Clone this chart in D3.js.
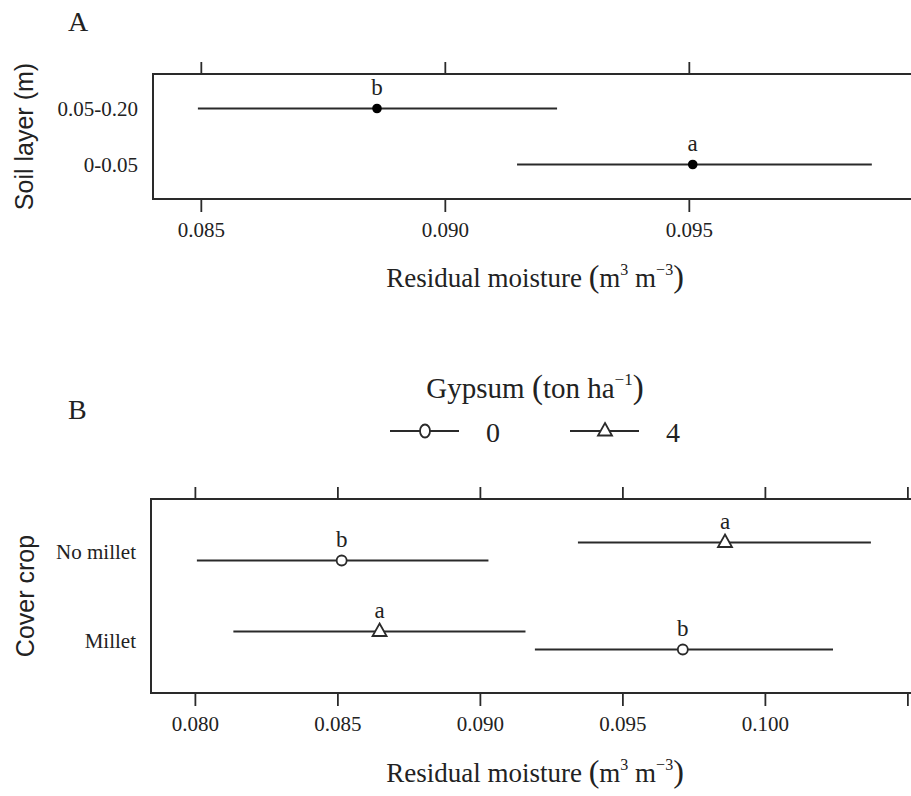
<!DOCTYPE html>
<html>
<head>
<meta charset="utf-8">
<script src="https://cdn.jsdelivr.net/npm/d3@7"></script>
<style>
	html, body { margin: 0; padding: 0; background: #fff; }
	svg { display: block; }
</style>
</head>
<body>
<svg id="chart" width="911" height="796"></svg>
<script>
// Panel A: soil layers
var layersA = ["0.05-0.20", "0-0.05"];
var meanA = [0.08861, 0.09508];
var lowerA = [0.08494, 0.09148];
var upperA = [0.09230, 0.09875];
var lettersA = ["b", "a"];
var ticksA = [0.085, 0.090, 0.095, 0.100];
var tickLabelsA = ["0.085", "0.090", "0.095"];
var xDomainA = [0.08402, 0.1000];

// Panel B: cover crop x gypsum
var cropsB = ["No millet", "Millet"];
var gypsumLevels = ["0", "4"];
var mean0 = [0.08515, 0.09712];
var lower0 = [0.08007, 0.09193];
var upper0 = [0.09030, 0.10239];
var letters0 = ["b", "b"];
var mean4 = [0.09860, 0.08648];
var lower4 = [0.09344, 0.08135];
var upper4 = [0.10372, 0.09160];
var letters4 = ["a", "a"];
var ticksB = [0.080, 0.085, 0.090, 0.095, 0.100, 0.105];
var tickLabelsB = ["0.080", "0.085", "0.090", "0.095", "0.100"];
var xDomainB = [0.07846, 0.1065];

var svg = d3.select("#chart");
var SERIF = "Liberation Serif";
var SANS = "Liberation Sans";
var INK = "#222";

var trianglePath = "M0,-8L7,4.5L-7,4.5Z";

function drawFrame(panel){
	var g = svg.append("g");
	var x = panel.x, y = panel.y;
	var r = x.range(), b = y.range();

	g.append("rect").attr("x", r[0]).attr("y", b[0])
		.attr("width", r[1] - r[0]).attr("height", b[1] - b[0])
		.attr("fill", "none").attr("stroke", "#2a2a2a").attr("stroke-width", 2);

	var bottom = g.append("g").attr("transform", "translate(0," + b[1] + ")")
		.call(d3.axisBottom(x).tickValues(panel.ticks).tickSize(13).tickPadding(10)
			.tickFormat(function(d, i){ return panel.tickLabels[i] || ""; }));
	var top = g.append("g").attr("transform", "translate(0," + b[0] + ")")
		.call(d3.axisTop(x).tickValues(panel.ticks).tickSize(12).tickFormat(""));
	var left = g.append("g").attr("transform", "translate(" + r[0] + ",0)")
		.call(d3.axisLeft(y).tickSize(0).tickPadding(15));

	[bottom, top, left].forEach(function(a){
		a.select(".domain").remove();
		a.selectAll("line").attr("stroke", "#2a2a2a").attr("stroke-width", 1.8);
		a.selectAll("text").attr("fill", INK).attr("font-family", SERIF).attr("font-size", 21);
	});

	// x title with superscripts
	var t = g.append("text").attr("x", panel.titleX).attr("y", panel.titleY)
		.attr("text-anchor", "middle").attr("fill", INK)
		.attr("font-family", SERIF).attr("font-size", 27);
	t.append("tspan").text("Residual moisture ");
	t.append("tspan").attr("font-size", 32).text("(");
	t.append("tspan").text("m");
	t.append("tspan").attr("dy", -12).attr("font-size", 16).text("3");
	t.append("tspan").attr("dy", 12).text(" m");
	t.append("tspan").attr("dy", -12).attr("font-size", 16).text("\u22123");
	t.append("tspan").attr("dy", 12).attr("font-size", 32).text(")");

	g.append("text")
		.attr("transform", "translate(" + panel.yTitleX + "," + (b[0] + b[1]) / 2 + ") rotate(-90)")
		.attr("text-anchor", "middle").attr("fill", INK)
		.attr("font-family", SANS).attr("font-size", 25)
		.text(panel.yTitle);

	g.append("text").attr("x", 68).attr("y", panel.labelY).attr("fill", INK)
		.attr("font-family", SERIF).attr("font-size", 28).text(panel.label);
	return g;
}

function drawSeries(g, x, y, cats, mean, lower, upper, letters, dy, symbol){
	var s = g.append("g").selectAll("g").data(cats).join("g")
		.attr("transform", function(d){ return "translate(0," + (y(d) + dy) + ")"; });
	s.append("line")
		.attr("x1", function(d, i){ return x(lower[i]); })
		.attr("x2", function(d, i){ return x(upper[i]); })
		.attr("stroke", "#2a2a2a").attr("stroke-width", 2);
	s.each(function(d, i){
		var p = d3.select(this);
		if (symbol === "dot") {
			p.append("circle").attr("cx", x(mean[i])).attr("r", 4.8).attr("fill", "#000");
		} else if (symbol === "circle") {
			p.append("circle").attr("cx", x(mean[i])).attr("r", 5)
				.attr("fill", "#fff").attr("stroke", "#2a2a2a").attr("stroke-width", 1.8);
		} else {
			p.append("path").attr("d", trianglePath)
				.attr("transform", "translate(" + x(mean[i]) + ",0)")
				.attr("fill", "#fff").attr("stroke", "#2a2a2a").attr("stroke-width", 1.8);
		}
	});
	s.append("text")
		.attr("x", function(d, i){ return x(mean[i]); })
		.attr("y", -13.5)
		.attr("text-anchor", "middle").attr("fill", INK)
		.attr("font-family", SERIF).attr("font-size", 23)
		.text(function(d, i){ return letters[i]; });
}

// panel A
var xA = d3.scaleLinear().domain(xDomainA).range([153, 153 + (xDomainA[1] - xDomainA[0]) * 48800]);
var yA = d3.scalePoint().domain(layersA).range([74, 199]).padding(0.616);
var gA = drawFrame({
	x: xA, y: yA, ticks: ticksA, tickLabels: tickLabelsA,
	titleX: 535, titleY: 287, yTitle: "Soil layer (m)", yTitleX: 33,
	label: "A", labelY: 31
});
drawSeries(gA, xA, yA, layersA, meanA, lowerA, upperA, lettersA, 0, "dot");

// panel B
var xB = d3.scaleLinear().domain(xDomainB).range([151, 151 + (xDomainB[1] - xDomainB[0]) * 28500]);
var yB = d3.scalePoint().domain(cropsB).range([499, 693]).padding(0.59);
var gB = drawFrame({
	x: xB, y: yB, ticks: ticksB, tickLabels: tickLabelsB,
	titleX: 535, titleY: 782, yTitle: "Cover crop", yTitleX: 34,
	label: "B", labelY: 419
});
drawSeries(gB, xB, yB, cropsB, mean0, lower0, upper0, letters0, 9, "circle");
drawSeries(gB, xB, yB, cropsB, mean4, lower4, upper4, letters4, -9, "triangle");

// legend
var lg = svg.append("g");
var lt = lg.append("text").attr("x", 535).attr("y", 398).attr("text-anchor", "middle").attr("fill", INK)
	.attr("font-family", SERIF).attr("font-size", 29);
lt.append("tspan").text("Gypsum ");
lt.append("tspan").attr("font-size", 33).text("(");
lt.append("tspan").text("ton ha");
lt.append("tspan").attr("dy", -13).attr("font-size", 17).text("\u22121");
lt.append("tspan").attr("dy", 13).attr("font-size", 33).text(")");

var legendX = d3.scalePoint().domain(gypsumLevels).range([425, 605]);
var item = lg.selectAll("g.item").data(gypsumLevels).join("g").attr("class", "item")
	.attr("transform", function(d){ return "translate(" + legendX(d) + ",431)"; });
item.append("line").attr("x1", -35).attr("x2", 34).attr("stroke", "#2a2a2a").attr("stroke-width", 2);
item.each(function(d, i){
	var p = d3.select(this);
	if (i === 0) {
		p.append("ellipse").attr("rx", 5).attr("ry", 6.5)
			.attr("fill", "#fff").attr("stroke", "#2a2a2a").attr("stroke-width", 1.8);
	} else {
		p.append("path").attr("d", trianglePath)
			.attr("fill", "#fff").attr("stroke", "#2a2a2a").attr("stroke-width", 1.8);
	}
});
item.append("text").attr("x", 68).attr("y", 11).attr("text-anchor", "middle").attr("fill", INK)
	.attr("font-family", SERIF).attr("font-size", 28).text(function(d){ return d; });
</script>
</body>
</html>
